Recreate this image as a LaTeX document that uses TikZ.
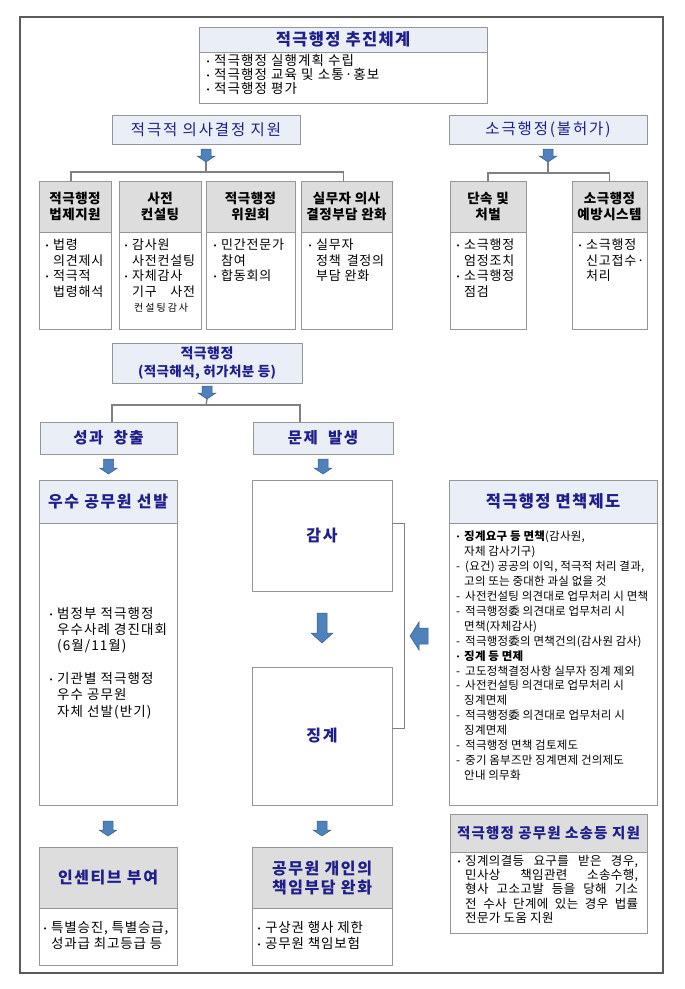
\documentclass[tikz,border=0pt]{standalone}
\usepackage{fontspec}
\setmainfont{Noto Sans CJK KR}
\newfontfamily\dejavu{DejaVu Sans}
\usetikzlibrary{calc}
\definecolor{boxgray}{RGB}{150,150,150}
\definecolor{hdrblue}{RGB}{233,238,247}
\definecolor{hdrgray}{RGB}{221,221,221}
\definecolor{navy}{RGB}{30,30,140}
\definecolor{conngray}{RGB}{128,128,128}
\definecolor{framegray}{RGB}{90,90,90}
\definecolor{arrowblue}{RGB}{79,129,189}
\definecolor{arrowedge}{RGB}{56,93,138}
\newcommand\bul{\makebox[8pt][l]{\dejavu\fontsize{7}{7}\selectfont\raisebox{1pt}{•}}}
\newcommand\ind{\hspace*{8pt}}
\newcommand\dsh{\makebox[9pt][l]{-}}
\newcommand\rbox[7]{\node[#1, minimum width={(#4)-(#2)}, minimum height={(#5)-(#3)}] (#6) at ({((#2)+(#4))/2},{((#3)+(#5))/2}) {#7};}
\tikzset{
  bx/.style={draw=boxgray, line width=0.8pt, inner sep=0pt, outer sep=0pt, align=center},
  hb/.style={bx, fill=hdrblue},
  hg/.style={bx, fill=hdrgray},
  txt/.style={anchor=north west, inner sep=0pt, align=left, font=\fontsize{13}{15.5}\selectfont\addfontfeature{LetterSpace=6}},
  conn/.style={draw=conngray, line width=1.4pt},
  navyh/.style={text=navy, font=\bfseries\fontsize{16}{19}\selectfont\addfontfeature{LetterSpace=10}},
  bigh/.style={text=navy, font=\bfseries\fontsize{16.5}{19}\selectfont\addfontfeature{LetterSpace=8}},
  navyr/.style={text=navy, font=\fontsize{15.5}{17}\selectfont\addfontfeature{LetterSpace=12}},
  blkh/.style={font=\bfseries\fontsize{13.5}{15.5}\selectfont\addfontfeature{LetterSpace=4}},
  arr/.style={fill=arrowblue, draw=arrowedge, line width=0.5pt},
  pics/darr/.style={code={\path[arr] (-5,0) -- (5,0) -- (5,#1-6) -- (9,#1-6) -- (0,#1) -- (-9,#1-6) -- (-5,#1-6) -- cycle;}},
  pics/bdarr/.style={code={\path[arr] (-5,0) -- (5,0) -- (5,20) -- (11,20) -- (0,30) -- (-11,20) -- (-5,20) -- cycle;}},
  pics/larr/.style={code={\path[arr] (0,-8) -- (-9,-8) -- (-9,-14) -- (-18,0) -- (-9,14) -- (-9,8) -- (0,8) -- cycle;}}
}
\begin{document}
\begin{tikzpicture}[x=1pt,y=-1pt]
\useasboundingbox (0,0) rectangle (685,989);
\draw[draw=framegray, line width=1.2pt] (20,17) rectangle (663,973);

% title
\rbox{hb, bigh}{199}{27}{487}{52}{t1h}{적극행정 추진체계}
\rbox{bx}{199}{52}{487}{103}{t1b}{}
\node[txt, font=\fontsize{13.5}{14}\selectfont\addfontfeature{LetterSpace=8}] (t1t) at (206,54) {\bul 적극행정 실행계획 수립\\ \bul 적극행정 교육 및 소통·홍보\\ \bul 적극행정 평가};

% level 2 headers
\rbox{hb, navyr}{112}{115}{300}{144}{dh}{적극적 의사결정 지원}
\rbox{hb, navyr}{449}{115}{647}{144}{sh}{소극행정(불허가)}
\pic at ($(dh.south)+(0,5)$) {darr=13};
\pic at ($(sh.south)+(0,5)$) {darr=13};

% small boxes
\rbox{hg, blkh}{39}{181}{111}{232}{b1h}{적극행정\\법제지원}
\rbox{bx}{39}{232}{111}{329}{b1b}{}
\rbox{hg, blkh}{119}{181}{201}{232}{b2h}{사전\\컨설팅}
\rbox{bx}{119}{232}{201}{329}{b2b}{}
\rbox{hg, blkh}{206}{181}{295}{232}{b3h}{적극행정\\위원회}
\rbox{bx}{206}{232}{295}{329}{b3b}{}
\rbox{hg, blkh}{301}{181}{392}{232}{b4h}{실무자 의사\\결정부담 완화}
\rbox{bx}{301}{232}{392}{329}{b4b}{}
\rbox{hg, blkh}{450}{181}{526}{232}{b5h}{단속 및\\처벌}
\rbox{bx}{450}{232}{526}{329}{b5b}{}
\rbox{hg, blkh}{572}{181}{647}{232}{b6h}{소극행정\\예방시스템}
\rbox{bx}{572}{232}{647}{329}{b6b}{}

\node[txt] (b1t) at (45,239) {\bul 법령\\ \ind 의견제시\\ \bul 적극적\\ \ind 법령해석};
\node[txt] (b2t) at (124,239) {\bul 감사원\\ \ind 사전컨설팅\\ \bul 자체감사\\ \ind\makebox[63pt][s]{기구 사전}\\ \ind{\fontsize{10}{16}\selectfont\makebox[58pt]{컨\hfil 설\hfil 팅\hfil 감\hfil 사}}};
\node[txt] (b3t) at (213,239) {\bul 민간전문가\\ \ind 참여\\ \bul 합동회의};
\node[txt] (b4t) at (308,239) {\bul 실무자\\ \ind 정책 \,결정의\\ \ind 부담 완화};
\node[txt] (b5t) at (456,239) {\bul 소극행정\\ \ind 엄정조치\\ \bul 소극행정\\ \ind 점검};
\node[txt] (b6t) at (578,239) {\bul 소극행정\\ \ind 신고접수·\\ \ind 처리};

% brackets
\coordinate (j1) at (206,172);
\coordinate (j2) at (548,173);
\draw[conn] ($(dh.south)+(0,18)$) -- (j1);
\draw[conn] ([xshift=-4pt]b1h.north) |- (j1) -| ([xshift=-3pt]b4h.north);
\draw[conn] ($(sh.south)+(0,18)$) -- (j2);
\draw[conn] (b5h.north) |- (j2) -| (b6h.north);

% 적극행정
\rbox{hb, text=navy, font=\bfseries\fontsize{14}{18}\selectfont\addfontfeature{LetterSpace=3}}{112}{343}{302}{383}{jh}{적극행정\\{\fontsize{13.5}{18}\selectfont (적극해석, 허가처분 등)}}
\pic at ($(jh.south)+(0,3)$) {darr=13};
\coordinate (j3) at (206,405);
\draw[conn] ($(jh.south)+(0,16)$) -- (j3);
\rbox{hb, navyh, font=\bfseries\fontsize{15.5}{19}\selectfont\addfontfeature{LetterSpace=10}}{40}{422}{177}{454}{sc}{성과\hspace{5pt} 창출}
\rbox{hb, navyh, font=\bfseries\fontsize{15.5}{19}\selectfont\addfontfeature{LetterSpace=10}}{253}{422}{393}{454}{mb}{문제\hspace{5pt} 발생}
\draw[conn] ([xshift=3.5pt]sc.north) |- (j3) -| ([xshift=-23pt]mb.north);
\pic at ($(sc.south)+(0,5)$) {darr=15};
\pic at ($(mb.south)+(0,5)$) {darr=15};

% left column
\rbox{hb, navyh}{39}{480}{177}{523}{wh}{우수 공무원 선발}
\rbox{bx}{39}{523}{177}{805}{wb}{}
\node[txt, font=\fontsize{13.5}{16.3}\selectfont\addfontfeature{LetterSpace=8}] (wt) at (49,607) {\bul 범정부 적극행정\\ \ind 우수사례 경진대회\\ \ind (6월/11월)\\[16.3pt] \bul 기관별 적극행정\\ \ind 우수 공무원\\ \ind 자체 선발(반기)};

% middle column
\rbox{bx, navyh}{252}{480}{392}{591}{gs}{감사}
\rbox{bx, navyh}{252}{667}{392}{805}{jg}{징계}
\pic at ($(gs.south)+(0,22)$) {bdarr};
\draw[conn, line width=1pt] ([yshift=12.5pt]gs.east) -- ++(12,0) |- ([yshift=8pt]jg.east);
\pic at (428,636) {larr};

% right column
\rbox{hb, bigh}{449}{480}{657}{523}{mch}{적극행정 면책제도}
\rbox{bx}{449}{523}{657}{805}{mcb}{}
\node[txt, font=\fontsize{11.5}{14.9}\selectfont\addfontfeature{LetterSpace=2}] (mct) at (456,531) {\bul\textbf{징계요구 등 면책}(감사원,\\
\ind 자체 감사기구)\\
\dsh(요건) 공공의 이익, 적극적 처리 결과,\\
\ind 고의 또는 중대한 과실 없을 것\\
\dsh 사전컨설팅 의견대로 업무처리 시 면책\\
\dsh 적극행정委 의견대로 업무처리 시\\
\ind 면책(자체감사)\\
\dsh 적극행정委의 면책건의(감사원 감사)\\
\bul\textbf{징계 등 면제}\\
\dsh 고도정책결정사항 실무자 징계 제외\\
\dsh 사전컨설팅 의견대로 업무처리 시\\
\ind 징계면제\\
\dsh 적극행정委 의견대로 업무처리 시\\
\ind 징계면제\\
\dsh 적극행정 면책 검토제도\\
\dsh 중기 옴부즈만 징계면제 건의제도\\
\ind 안내 의무화};

\rbox{hg, navyh, font=\bfseries\fontsize{14.5}{16}\selectfont\addfontfeature{LetterSpace=8}}{450}{814}{647}{852}{ssh}{적극행정 공무원 소송등 지원}
\rbox{bx}{450}{852}{647}{933}{ssb}{}
\node[txt, font=\fontsize{12.5}{14.2}\selectfont\addfontfeature{LetterSpace=3}] (sst) at (457,855) {\bul\makebox[173pt][s]{징계의결등 요구를 받은 경우,}\\
\ind\makebox[173pt][s]{민사상 책임관련 소송수행,}\\
\ind\makebox[173pt][s]{형사 고소고발 등을 당해 기소}\\
\ind\makebox[173pt][s]{전 수사 단계에 있는 경우 법률}\\
\ind 전문가 도움 지원};

% bottom row
\pic at ($(wb.south)+(0,16)$) {darr=15};
\pic at ($(jg.south)+(0,16)$) {darr=15};
\rbox{hg, navyh}{39}{847}{177}{908}{ih}{인센티브 부여}
\rbox{bx}{39}{908}{177}{965}{ib}{}
\node[txt, font=\fontsize{13.5}{16}\selectfont\addfontfeature{LetterSpace=6}] (it) at (43,921) {\bul 특별승진, 특별승급,\\ \ind 성과급 최고등급 등};
\rbox{hg, navyh}{252}{847}{392}{908}{ph}{공무원 개인의\\책임부담 완화}
\rbox{bx}{252}{908}{392}{965}{pb}{}
\node[txt, font=\fontsize{13.5}{16}\selectfont\addfontfeature{LetterSpace=6}] (pt) at (257,921) {\bul 구상권 행사 제한\\ \bul 공무원 책임보험};
\end{tikzpicture}
\end{document}
